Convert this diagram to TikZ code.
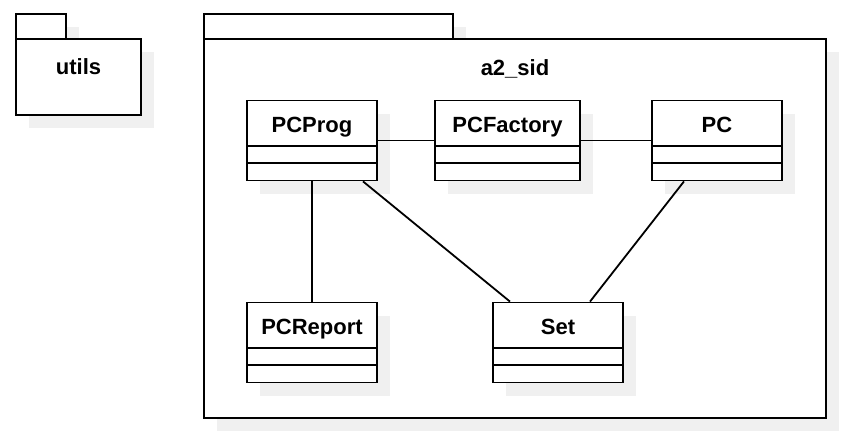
\documentclass[tikz,border=0pt]{standalone}
\usepackage{fontspec}
\setmainfont{Liberation Sans}
\usetikzlibrary{shadows,calc}
\definecolor{shadowgray}{RGB}{240,240,240}
\tikzset{
  cls/.style={draw, line width=1.8pt, fill=white, minimum height=80pt, inner sep=0pt,
    general shadow={fill=shadowgray, shadow xshift=13pt, shadow yshift=-13pt}},
  lbl/.style={font=\fontsize{22}{26}\selectfont\bfseries, inner sep=0pt, anchor=base},
  pkg/.style={draw, line width=1.8pt, fill=white},
  shd/.style={fill=shadowgray, draw=none},
  conn/.style={line width=1.8pt}
}
\begin{document}
\begin{tikzpicture}[x=1pt,y=-1pt]
\useasboundingbox (0,0) rectangle (841,434);
% utils package
\fill[shd] (29,27) rectangle (79,52);
\fill[shd] (29,52) rectangle (154,128);
\draw[pkg] (16,14) rectangle (66,39);
\draw[pkg] (16,39) rectangle (141,115);
\node[lbl] (utils) at (78.5,74) {utils};
% a2_sid package
\fill[shd] (217,27) rectangle (466,52);
\fill[shd] (217,52) rectangle (839,431);
\draw[pkg] (204,14) rectangle (453,39);
\draw[pkg] (204,39) rectangle (826,418);
\node[lbl] (a2sid) at (515,75) {a2\_sid};
% classes
\foreach \n/\t/\x/\y/\w in {pcprog/PCProg/312/140.5/130, pcfactory/PCFactory/507.5/140.5/145, pc/PC/717/140.5/130, pcreport/PCReport/312/342.5/130, set/Set/558/342.5/130}{
  \node[cls, minimum width=\w pt] (\n) at (\x,\y) {};
  \draw[line width=1.8pt] ($(\n.north west)+(0,46)$) -- ($(\n.north east)+(0,46)$);
  \draw[line width=1.8pt] ($(\n.north west)+(0,63.5)$) -- ($(\n.north east)+(0,63.5)$);
  \node[lbl] (\n-name) at ($(\n.north)+(0,33)$) {\t};
}
% connectors
\draw[conn] (pcprog.east) -- (pcfactory.west);
\draw[conn] (pcfactory.east) -- (pc.west);
\draw[conn] (pcprog.south) -- (pcreport.north);
\draw[conn] ($(pcprog.south)+(51,0)$) -- ($(set.north)+(-48,0)$);
\draw[conn] ($(pc.south)+(-33,0)$) -- ($(set.north)+(32,0)$);
\end{tikzpicture}
\end{document}
